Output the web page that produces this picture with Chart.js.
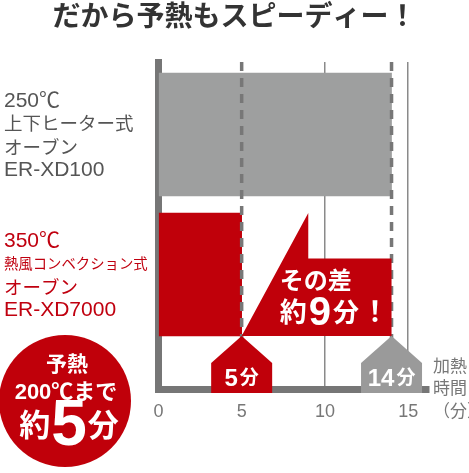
<!DOCTYPE html>
<html>
<head>
<meta charset="utf-8">
<script src="https://cdn.jsdelivr.net/npm/chart.js@4/dist/chart.umd.min.js"></script>
<style>
  html, body { margin: 0; padding: 0; background: #fff; }
  #wrap { width: 469px; height: 473px; position: relative; }
</style>
</head>
<body>
<div id="wrap"><canvas id="preheatChart"></canvas></div>
<script>
        const titleText = "だから予熱もスピーディー！";
        const ovenLabels = [
            ["250℃", "上下ヒーター式", "オーブン", "ER-XD100"],
            ["350℃", "熱風コンベクション式", "オーブン", "ER-XD7000"]
        ];
        const preheatMinutes = [14, 5];
        const xTickValues = [0, 5, 10, 15];
        const axisTitle = ["加熱", "時間", "（分）"];
        const badgeLines = ["予熱", "200℃まで"];

        const FONT = '"Liberation Sans", "Noto Sans CJK JP", sans-serif';
        const RED = "#c0000a";
        const GRAY = "#9e9f9f";
        const barColors = [GRAY, RED];
        const labelColors = ["#555555", "#c0000f"];

        // draws a row of text pieces with different sizes, vertically centred on y
        function drawPieces(ctx, pieces, x, y, align, gap) {
            gap = gap || 0;
            ctx.textBaseline = "middle";
            ctx.textAlign = "left";
            let total = 0;
            pieces.forEach(p => {
                ctx.font = `bold ${p.size}px ${FONT}`;
                p.w = ctx.measureText(p.t).width;
                total += p.w;
            });
            total += gap * (pieces.length - 1);
            let cx = align === "center" ? x - total / 2 : x;
            pieces.forEach(p => {
                ctx.font = `bold ${p.size}px ${FONT}`;
                ctx.fillText(p.t, cx, y + (p.dy || 0));
                cx += p.w + gap;
            });
        }

        const decorPlugin = {
            id: "decor",
            afterDatasetsDraw(chart) {
                const { ctx, chartArea, scales: { x } } = chart;
                ctx.save();
                ctx.strokeStyle = "#777";
                ctx.lineWidth = 3.5;
                ctx.setLineDash([9, 7]);
                preheatMinutes.forEach(v => {
                    const px = x.getPixelForValue(v);
                    ctx.beginPath();
                    ctx.moveTo(px, chartArea.top);
                    ctx.lineTo(px, chartArea.bottom);
                    ctx.stroke();
                });
                ctx.restore();
            },
            afterDraw(chart) {
                const { ctx, chartArea, scales: { x, y } } = chart;
                const bars = chart.getDatasetMeta(0).data;
                const red = bars[1];
                const redTop = red.y - red.height / 2;
                const redBottom = red.y + red.height / 2;
                ctx.save();

                // title
                ctx.fillStyle = "#333";
                ctx.font = `bold 28px ${FONT}`;
                ctx.textAlign = "center";
                ctx.textBaseline = "middle";
                ctx.fillText(titleText, chart.width / 2, 18);

                // oven labels on the left
                ovenLabels.forEach((lines, i) => {
                    const cy = y.getPixelForValue(i);
                    const offsets = [-33, -9.5, 14, 35.5];
                    ctx.fillStyle = labelColors[i];
                    ctx.textBaseline = "middle";
                    ctx.textAlign = "left";
                    lines.forEach((line, j) => {
                        let size = /^[\x00-\x7F℃]+$/.test(line) ? 21 : 18.5;
                        ctx.font = `${size}px ${FONT}`;
                        const w = ctx.measureText(line).width;
                        if (w > 144) {
                            size = size * 144 / w;
                            ctx.font = `${size}px ${FONT}`;
                        }
                        ctx.fillText(line, 4, cy + offsets[j]);
                    });
                });

                // "その差" speech callout between the two preheat times
                const fastX = x.getPixelForValue(preheatMinutes[1]);
                const slowX = x.getPixelForValue(preheatMinutes[0]);
                const apexX = x.getPixelForValue(9);
                const boxTop = redTop + red.height * 0.37;
                ctx.fillStyle = RED;
                ctx.beginPath();
                ctx.moveTo(fastX, redBottom);
                ctx.lineTo(apexX, redTop);
                ctx.lineTo(apexX, boxTop);
                ctx.lineTo(slowX, boxTop);
                ctx.lineTo(slowX, redBottom);
                ctx.closePath();
                ctx.fill();

                const diff = preheatMinutes[0] - preheatMinutes[1];
                ctx.fillStyle = "#fff";
                drawPieces(ctx, [{ t: "その差", size: 24 }], fastX + 38, boxTop + 24, "left");
                drawPieces(ctx, [
                    { t: "約", size: 27 },
                    { t: String(diff), size: 40, dy: -1 },
                    { t: "分", size: 26 },
                    { t: "！", size: 28 }
                ], fastX + 38, boxTop + 56, "left", 2);

                // pentagon markers under each time
                const pentBottom = chartArea.bottom + 4;
                preheatMinutes.forEach((v, i) => {
                    const px = x.getPixelForValue(v);
                    const half = 30.5;
                    const shoulder = redBottom + 27;
                    ctx.fillStyle = i === 0 ? "#9a9a9a" : RED;
                    ctx.beginPath();
                    ctx.moveTo(px, redBottom);
                    ctx.lineTo(px + half, shoulder);
                    ctx.lineTo(px + half, pentBottom);
                    ctx.lineTo(px - half, pentBottom);
                    ctx.lineTo(px - half, shoulder);
                    ctx.closePath();
                    ctx.fill();
                    ctx.fillStyle = "#fff";
                    drawPieces(ctx, [
                        { t: String(v), size: 24, dy: 0 },
                        { t: "分", size: 19 }
                    ], px, pentBottom - 14, "center", 2);
                });

                // axis title to the right
                ctx.fillStyle = "#777";
                ctx.font = `17px ${FONT}`;
                ctx.textAlign = "left";
                ctx.textBaseline = "middle";
                axisTitle.forEach((t, j) => {
                    ctx.fillText(t, chartArea.right + 4, chartArea.bottom - 22 + j * 22.5);
                });

                // red badge bottom-left
                ctx.fillStyle = RED;
                ctx.beginPath();
                ctx.arc(65, 401, 66, 0, Math.PI * 2);
                ctx.fill();
                ctx.fillStyle = "#fff";
                drawPieces(ctx, [{ t: badgeLines[0], size: 21 }], 67, 365, "center");
                drawPieces(ctx, [{ t: badgeLines[1], size: 22 }], 66, 393, "center");
                drawPieces(ctx, [
                    { t: "約", size: 31 },
                    { t: String(preheatMinutes[1]), size: 64, dy: 0 },
                    { t: "分", size: 31 }
                ], 69, 427, "center", 1);

                ctx.restore();
            }
        };

        const ctx = document.getElementById("preheatChart").getContext("2d");
        window.myChart = new Chart(ctx, {
            type: "bar",
            data: {
                datasets: [{
                    data: preheatMinutes.map((v, i) => ({ x: v, y: i })),
                    backgroundColor: barColors,
                    borderWidth: 0,
                    barThickness: 123
                }]
            },
            options: {
                indexAxis: "y",
                animation: false,
                responsive: true,
                maintainAspectRatio: false,
                layout: { padding: { left: 0, right: 40, top: 62, bottom: 0 } },
                plugins: {
                    legend: { display: false },
                    tooltip: { enabled: false },
                    title: { display: false }
                },
                scales: {
                    x: {
                        type: "linear",
                        min: 0,
                        max: 16.25,
                        z: 1,
                        afterBuildTicks: scale => {
                            scale.ticks = xTickValues.map(v => ({ value: v }));
                        },
                        afterFit: scale => { scale.height = 84; },
                        grid: {
                            color: c => (c.tick && (c.tick.value === 10 || c.tick.value === 15)) ? "#8a8a8a" : "rgba(0,0,0,0)",
                            lineWidth: 1.5,
                            drawTicks: false
                        },
                        border: { color: "#767676", width: 7 },
                        ticks: { color: "#777", padding: 12, font: { size: 18, family: FONT } }
                    },
                    y: {
                        type: "linear",
                        reverse: true,
                        offset: false,
                        min: -0.518,
                        max: 1.818,
                        z: 1,
                        afterFit: scale => { scale.width = 158.4; },
                        grid: { display: false, offset: false },
                        border: { color: "#767676", width: 7 },
                        ticks: { display: false }
                    }
                }
            },
            plugins: [decorPlugin]
        });
</script>
</body>
</html>
